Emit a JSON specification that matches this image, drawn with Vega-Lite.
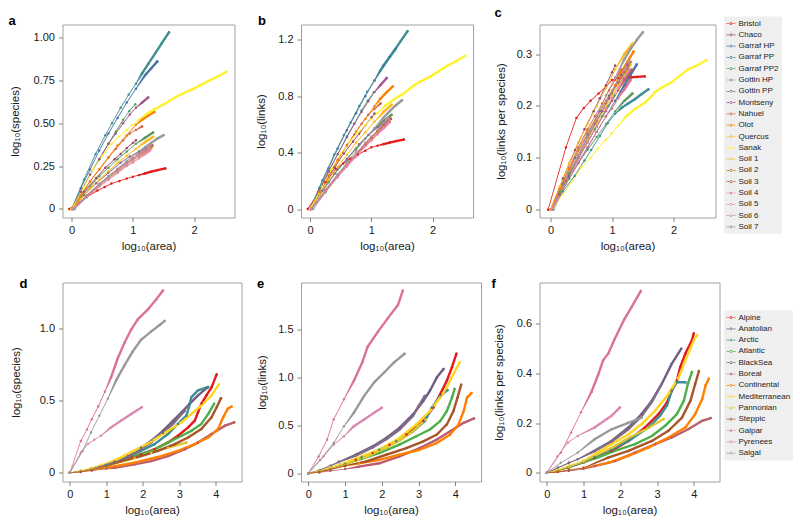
{
"$schema":"https://vega.github.io/schema/vega-lite/v6.json",
"padding":{"left":7.5,"top":6.5,"right":5,"bottom":5},
"config":{
 "font":"Liberation Sans",
 "view":{"stroke":"#a0a0a0","strokeWidth":1},
 "axis":{"domain":false,"grid":false,"tickColor":"#808080","tickSize":4,"labelFontSize":11,"labelColor":"#1a1a1a","labelFont":"Liberation Sans","titleFont":"Liberation Sans","titleFontSize":11.5,"titleFontWeight":"normal","titleColor":"#1a1a1a","labelFlush":false,"labelOverlap":false,"labelPadding":3},
 "axisX":{"titlePadding":5},
 "axisY":{"labelPadding":4},
 "title":{"fontSize":13,"fontWeight":"bold","anchor":"start","frame":"group","font":"Liberation Sans","color":"#000"}
},
"datasets":{
"r1":[
{"n":"Bristol","x":-0.04,"s":0,"l":0,"p":0},{"n":"Bristol","x":0.25,"s":0.07,"l":0.19,"p":0.12},{"n":"Bristol","x":0.42,"s":0.107,"l":0.284,"p":0.177},{"n":"Bristol","x":0.54,"s":0.128,"l":0.324,"p":0.196},{"n":"Bristol","x":0.65,"s":0.148,"l":0.358,"p":0.21},{"n":"Bristol","x":0.78,"s":0.163,"l":0.387,"p":0.224},{"n":"Bristol","x":0.9,"s":0.177,"l":0.414,"p":0.237},{"n":"Bristol","x":1.0,"s":0.188,"l":0.438,"p":0.25},{"n":"Bristol","x":1.1,"s":0.197,"l":0.45,"p":0.253},{"n":"Bristol","x":1.2,"s":0.207,"l":0.461,"p":0.254},{"n":"Bristol","x":1.3,"s":0.217,"l":0.472,"p":0.255},{"n":"Bristol","x":1.4,"s":0.226,"l":0.482,"p":0.256},{"n":"Bristol","x":1.53,"s":0.236,"l":0.493,"p":0.257},
{"n":"Chaco","x":0,"s":0,"l":0,"p":0},{"n":"Chaco","x":0.2,"s":0.1,"l":0.16,"p":0.06},{"n":"Chaco","x":0.4,"s":0.18,"l":0.295,"p":0.115},{"n":"Chaco","x":0.55,"s":0.24,"l":0.395,"p":0.155},{"n":"Chaco","x":0.7,"s":0.29,"l":0.48,"p":0.19},{"n":"Chaco","x":0.8,"s":0.32,"l":0.535,"p":0.215},{"n":"Chaco","x":0.9,"s":0.355,"l":0.595,"p":0.24},{"n":"Chaco","x":1.0,"s":0.385,"l":0.65,"p":0.265},{"n":"Chaco","x":1.05,"s":0.4,"l":0.678,"p":0.278},
{"n":"Garraf HP","x":0,"s":0,"l":0,"p":0},{"n":"Garraf HP","x":0.15,"s":0.12,"l":0.15,"p":0.03},{"n":"Garraf HP","x":0.3,"s":0.23,"l":0.29,"p":0.06},{"n":"Garraf HP","x":0.45,"s":0.34,"l":0.43,"p":0.09},{"n":"Garraf HP","x":0.6,"s":0.44,"l":0.56,"p":0.12},{"n":"Garraf HP","x":0.75,"s":0.53,"l":0.68,"p":0.15},{"n":"Garraf HP","x":0.9,"s":0.62,"l":0.8,"p":0.18},{"n":"Garraf HP","x":1.05,"s":0.7,"l":0.91,"p":0.21},{"n":"Garraf HP","x":1.2,"s":0.78,"l":1.02,"p":0.24},{"n":"Garraf HP","x":1.3,"s":0.82,"l":1.08,"p":0.26},{"n":"Garraf HP","x":1.4,"s":0.86,"l":1.14,"p":0.28},
{"n":"Garraf PP","x":0,"s":0,"l":0,"p":0},{"n":"Garraf PP","x":0.2,"s":0.17,"l":0.205,"p":0.035},{"n":"Garraf PP","x":0.39,"s":0.32,"l":0.385,"p":0.065},{"n":"Garraf PP","x":0.55,"s":0.43,"l":0.525,"p":0.095},{"n":"Garraf PP","x":0.66,"s":0.5,"l":0.615,"p":0.115},{"n":"Garraf PP","x":0.8,"s":0.59,"l":0.732,"p":0.142},{"n":"Garraf PP","x":0.93,"s":0.665,"l":0.832,"p":0.167},{"n":"Garraf PP","x":1.05,"s":0.73,"l":0.915,"p":0.185},{"n":"Garraf PP","x":1.15,"s":0.79,"l":0.986,"p":0.196},{"n":"Garraf PP","x":1.25,"s":0.845,"l":1.049,"p":0.204},{"n":"Garraf PP","x":1.37,"s":0.91,"l":1.123,"p":0.213},{"n":"Garraf PP","x":1.47,"s":0.965,"l":1.187,"p":0.222},{"n":"Garraf PP","x":1.59,"s":1.03,"l":1.262,"p":0.232},
{"n":"Garraf PP2","x":0,"s":0,"l":0,"p":0},{"n":"Garraf PP2","x":0.15,"s":0.1,"l":0.135,"p":0.035},{"n":"Garraf PP2","x":0.3,"s":0.2,"l":0.27,"p":0.07},{"n":"Garraf PP2","x":0.45,"s":0.29,"l":0.39,"p":0.1},{"n":"Garraf PP2","x":0.6,"s":0.38,"l":0.51,"p":0.13},{"n":"Garraf PP2","x":0.72,"s":0.45,"l":0.605,"p":0.155},{"n":"Garraf PP2","x":0.84,"s":0.52,"l":0.7,"p":0.18},{"n":"Garraf PP2","x":0.94,"s":0.57,"l":0.77,"p":0.2},{"n":"Garraf PP2","x":1.04,"s":0.61,"l":0.83,"p":0.22},
{"n":"Gottin HP","x":0,"s":0,"l":0,"p":0},{"n":"Gottin HP","x":0.15,"s":0.07,"l":0.1,"p":0.03},{"n":"Gottin HP","x":0.3,"s":0.13,"l":0.19,"p":0.06},{"n":"Gottin HP","x":0.45,"s":0.19,"l":0.28,"p":0.09},{"n":"Gottin HP","x":0.6,"s":0.24,"l":0.355,"p":0.115},{"n":"Gottin HP","x":0.75,"s":0.29,"l":0.43,"p":0.14},{"n":"Gottin HP","x":0.9,"s":0.335,"l":0.5,"p":0.165},{"n":"Gottin HP","x":1.05,"s":0.38,"l":0.57,"p":0.19},{"n":"Gottin HP","x":1.2,"s":0.415,"l":0.625,"p":0.21},{"n":"Gottin HP","x":1.33,"s":0.445,"l":0.669,"p":0.224},
{"n":"Gottin PP","x":0,"s":0,"l":0,"p":0},{"n":"Gottin PP","x":0.2,"s":0.08,"l":0.13,"p":0.05},{"n":"Gottin PP","x":0.4,"s":0.15,"l":0.25,"p":0.1},{"n":"Gottin PP","x":0.6,"s":0.21,"l":0.355,"p":0.145},{"n":"Gottin PP","x":0.8,"s":0.27,"l":0.46,"p":0.19},{"n":"Gottin PP","x":0.95,"s":0.305,"l":0.525,"p":0.22},{"n":"Gottin PP","x":1.1,"s":0.335,"l":0.58,"p":0.245},{"n":"Gottin PP","x":1.2,"s":0.35,"l":0.61,"p":0.26},{"n":"Gottin PP","x":1.28,"s":0.36,"l":0.63,"p":0.27},
{"n":"Montseny","x":0,"s":0,"l":0,"p":0},{"n":"Montseny","x":0.15,"s":0.1,"l":0.13,"p":0.03},{"n":"Montseny","x":0.3,"s":0.2,"l":0.265,"p":0.065},{"n":"Montseny","x":0.45,"s":0.29,"l":0.39,"p":0.1},{"n":"Montseny","x":0.6,"s":0.38,"l":0.515,"p":0.135},{"n":"Montseny","x":0.72,"s":0.44,"l":0.605,"p":0.165},{"n":"Montseny","x":0.84,"s":0.5,"l":0.69,"p":0.19},{"n":"Montseny","x":0.95,"s":0.55,"l":0.765,"p":0.215},{"n":"Montseny","x":1.05,"s":0.59,"l":0.83,"p":0.24},{"n":"Montseny","x":1.15,"s":0.62,"l":0.88,"p":0.26},{"n":"Montseny","x":1.25,"s":0.65,"l":0.93,"p":0.28},
{"n":"Nahuel","x":0,"s":0,"l":0,"p":0},{"n":"Nahuel","x":0.15,"s":0.08,"l":0.12,"p":0.04},{"n":"Nahuel","x":0.3,"s":0.16,"l":0.24,"p":0.08},{"n":"Nahuel","x":0.45,"s":0.23,"l":0.35,"p":0.12},{"n":"Nahuel","x":0.6,"s":0.3,"l":0.455,"p":0.155},{"n":"Nahuel","x":0.72,"s":0.35,"l":0.53,"p":0.18},{"n":"Nahuel","x":0.84,"s":0.4,"l":0.605,"p":0.205},{"n":"Nahuel","x":0.95,"s":0.44,"l":0.67,"p":0.23},{"n":"Nahuel","x":1.05,"s":0.46,"l":0.71,"p":0.25},{"n":"Nahuel","x":1.15,"s":0.48,"l":0.75,"p":0.27},
{"n":"Olot","x":0,"s":0,"l":0,"p":0},{"n":"Olot","x":0.15,"s":0.08,"l":0.12,"p":0.04},{"n":"Olot","x":0.3,"s":0.16,"l":0.24,"p":0.08},{"n":"Olot","x":0.45,"s":0.23,"l":0.345,"p":0.115},{"n":"Olot","x":0.6,"s":0.3,"l":0.45,"p":0.15},{"n":"Olot","x":0.75,"s":0.37,"l":0.55,"p":0.18},{"n":"Olot","x":0.9,"s":0.43,"l":0.64,"p":0.21},{"n":"Olot","x":1.05,"s":0.49,"l":0.73,"p":0.24},{"n":"Olot","x":1.15,"s":0.52,"l":0.785,"p":0.265},{"n":"Olot","x":1.25,"s":0.545,"l":0.83,"p":0.285},{"n":"Olot","x":1.35,"s":0.565,"l":0.87,"p":0.305},
{"n":"Quercus","x":0,"s":0,"l":0,"p":0},{"n":"Quercus","x":0.15,"s":0.06,"l":0.105,"p":0.045},{"n":"Quercus","x":0.3,"s":0.12,"l":0.21,"p":0.09},{"n":"Quercus","x":0.45,"s":0.17,"l":0.3,"p":0.13},{"n":"Quercus","x":0.6,"s":0.22,"l":0.385,"p":0.165},{"n":"Quercus","x":0.75,"s":0.27,"l":0.47,"p":0.2},{"n":"Quercus","x":0.9,"s":0.31,"l":0.545,"p":0.235},{"n":"Quercus","x":1.05,"s":0.35,"l":0.62,"p":0.27},{"n":"Quercus","x":1.2,"s":0.39,"l":0.69,"p":0.3},{"n":"Quercus","x":1.33,"s":0.42,"l":0.74,"p":0.32},
{"n":"Sanak","x":0,"s":0,"l":0,"p":0},{"n":"Sanak","x":0.2,"s":0.13,"l":0.16,"p":0.03},{"n":"Sanak","x":0.35,"s":0.23,"l":0.285,"p":0.055},{"n":"Sanak","x":0.5,"s":0.31,"l":0.392,"p":0.082},{"n":"Sanak","x":0.65,"s":0.38,"l":0.48,"p":0.1},{"n":"Sanak","x":0.77,"s":0.42,"l":0.538,"p":0.118},{"n":"Sanak","x":0.9,"s":0.46,"l":0.595,"p":0.135},{"n":"Sanak","x":0.99,"s":0.49,"l":0.637,"p":0.147},{"n":"Sanak","x":1.1,"s":0.52,"l":0.682,"p":0.162},{"n":"Sanak","x":1.23,"s":0.555,"l":0.735,"p":0.18},{"n":"Sanak","x":1.35,"s":0.58,"l":0.772,"p":0.192},{"n":"Sanak","x":1.45,"s":0.6,"l":0.8,"p":0.2},{"n":"Sanak","x":1.53,"s":0.615,"l":0.821,"p":0.206},{"n":"Sanak","x":1.62,"s":0.635,"l":0.851,"p":0.216},{"n":"Sanak","x":1.69,"s":0.65,"l":0.876,"p":0.226},{"n":"Sanak","x":1.8,"s":0.67,"l":0.905,"p":0.235},{"n":"Sanak","x":1.96,"s":0.695,"l":0.94,"p":0.245},{"n":"Sanak","x":2.1,"s":0.72,"l":0.978,"p":0.258},{"n":"Sanak","x":2.23,"s":0.745,"l":1.015,"p":0.27},{"n":"Sanak","x":2.38,"s":0.77,"l":1.048,"p":0.278},{"n":"Sanak","x":2.53,"s":0.8,"l":1.088,"p":0.288},
{"n":"Soil 1","x":0.03,"s":0,"l":0,"p":0},{"n":"Soil 1","x":0.25,"s":0.07,"l":0.125,"p":0.055},{"n":"Soil 1","x":0.45,"s":0.13,"l":0.23,"p":0.1},{"n":"Soil 1","x":0.6,"s":0.17,"l":0.305,"p":0.135},{"n":"Soil 1","x":0.75,"s":0.21,"l":0.375,"p":0.165},{"n":"Soil 1","x":0.9,"s":0.25,"l":0.45,"p":0.2},{"n":"Soil 1","x":1.0,"s":0.275,"l":0.495,"p":0.22},{"n":"Soil 1","x":1.1,"s":0.3,"l":0.54,"p":0.24},{"n":"Soil 1","x":1.2,"s":0.325,"l":0.585,"p":0.26},{"n":"Soil 1","x":1.3,"s":0.35,"l":0.63,"p":0.28},
{"n":"Soil 2","x":0.02,"s":0,"l":0,"p":0},{"n":"Soil 2","x":0.25,"s":0.075,"l":0.135,"p":0.06},{"n":"Soil 2","x":0.45,"s":0.14,"l":0.245,"p":0.105},{"n":"Soil 2","x":0.6,"s":0.18,"l":0.32,"p":0.14},{"n":"Soil 2","x":0.75,"s":0.22,"l":0.39,"p":0.17},{"n":"Soil 2","x":0.9,"s":0.26,"l":0.465,"p":0.205},{"n":"Soil 2","x":1.0,"s":0.285,"l":0.51,"p":0.225},{"n":"Soil 2","x":1.1,"s":0.31,"l":0.555,"p":0.245},{"n":"Soil 2","x":1.2,"s":0.335,"l":0.6,"p":0.265},{"n":"Soil 2","x":1.3,"s":0.36,"l":0.645,"p":0.285},
{"n":"Soil 3","x":0.02,"s":0,"l":0,"p":0},{"n":"Soil 3","x":0.25,"s":0.08,"l":0.135,"p":0.055},{"n":"Soil 3","x":0.45,"s":0.145,"l":0.245,"p":0.1},{"n":"Soil 3","x":0.6,"s":0.19,"l":0.32,"p":0.13},{"n":"Soil 3","x":0.75,"s":0.23,"l":0.39,"p":0.16},{"n":"Soil 3","x":0.9,"s":0.27,"l":0.46,"p":0.19},{"n":"Soil 3","x":1.0,"s":0.295,"l":0.505,"p":0.21},{"n":"Soil 3","x":1.1,"s":0.32,"l":0.55,"p":0.23},{"n":"Soil 3","x":1.2,"s":0.345,"l":0.595,"p":0.25},{"n":"Soil 3","x":1.32,"s":0.37,"l":0.64,"p":0.27},
{"n":"Soil 4","x":0.02,"s":0,"l":0,"p":0},{"n":"Soil 4","x":0.25,"s":0.08,"l":0.13,"p":0.05},{"n":"Soil 4","x":0.45,"s":0.145,"l":0.235,"p":0.09},{"n":"Soil 4","x":0.6,"s":0.19,"l":0.31,"p":0.12},{"n":"Soil 4","x":0.75,"s":0.23,"l":0.38,"p":0.15},{"n":"Soil 4","x":0.9,"s":0.27,"l":0.45,"p":0.18},{"n":"Soil 4","x":1.0,"s":0.295,"l":0.49,"p":0.195},{"n":"Soil 4","x":1.1,"s":0.32,"l":0.535,"p":0.215},{"n":"Soil 4","x":1.2,"s":0.345,"l":0.577,"p":0.232},{"n":"Soil 4","x":1.3,"s":0.37,"l":0.62,"p":0.25},
{"n":"Soil 5","x":0.02,"s":0,"l":0,"p":0},{"n":"Soil 5","x":0.25,"s":0.07,"l":0.12,"p":0.05},{"n":"Soil 5","x":0.45,"s":0.13,"l":0.225,"p":0.095},{"n":"Soil 5","x":0.6,"s":0.17,"l":0.3,"p":0.13},{"n":"Soil 5","x":0.75,"s":0.21,"l":0.37,"p":0.16},{"n":"Soil 5","x":0.9,"s":0.25,"l":0.445,"p":0.195},{"n":"Soil 5","x":1.0,"s":0.27,"l":0.485,"p":0.215},{"n":"Soil 5","x":1.1,"s":0.295,"l":0.53,"p":0.235},{"n":"Soil 5","x":1.2,"s":0.32,"l":0.575,"p":0.255},{"n":"Soil 5","x":1.28,"s":0.34,"l":0.61,"p":0.27},
{"n":"Soil 6","x":0.02,"s":0,"l":0,"p":0},{"n":"Soil 6","x":0.25,"s":0.075,"l":0.135,"p":0.06},{"n":"Soil 6","x":0.45,"s":0.14,"l":0.245,"p":0.105},{"n":"Soil 6","x":0.6,"s":0.18,"l":0.32,"p":0.14},{"n":"Soil 6","x":0.75,"s":0.22,"l":0.395,"p":0.175},{"n":"Soil 6","x":0.9,"s":0.26,"l":0.47,"p":0.21},{"n":"Soil 6","x":1.0,"s":0.285,"l":0.515,"p":0.23},{"n":"Soil 6","x":1.1,"s":0.31,"l":0.56,"p":0.25},{"n":"Soil 6","x":1.2,"s":0.34,"l":0.61,"p":0.27},{"n":"Soil 6","x":1.27,"s":0.36,"l":0.645,"p":0.285},
{"n":"Soil 7","x":0.05,"s":0,"l":0,"p":0},{"n":"Soil 7","x":0.25,"s":0.07,"l":0.12,"p":0.05},{"n":"Soil 7","x":0.45,"s":0.14,"l":0.24,"p":0.1},{"n":"Soil 7","x":0.6,"s":0.19,"l":0.33,"p":0.14},{"n":"Soil 7","x":0.75,"s":0.235,"l":0.415,"p":0.18},{"n":"Soil 7","x":0.9,"s":0.28,"l":0.5,"p":0.22},{"n":"Soil 7","x":1.05,"s":0.32,"l":0.575,"p":0.255},{"n":"Soil 7","x":1.2,"s":0.36,"l":0.65,"p":0.29},{"n":"Soil 7","x":1.3,"s":0.385,"l":0.695,"p":0.31},{"n":"Soil 7","x":1.4,"s":0.41,"l":0.737,"p":0.327},{"n":"Soil 7","x":1.5,"s":0.43,"l":0.772,"p":0.342}
],
"sp":[
{"n":"Alpine","x":0,"y":0},{"n":"Alpine","x":0.3,"y":0.01},{"n":"Alpine","x":0.6,"y":0.025},{"n":"Alpine","x":1.0,"y":0.05},{"n":"Alpine","x":1.4,"y":0.08},{"n":"Alpine","x":1.72,"y":0.11},{"n":"Alpine","x":1.95,"y":0.128},{"n":"Alpine","x":2.32,"y":0.163},{"n":"Alpine","x":2.69,"y":0.21},{"n":"Alpine","x":2.96,"y":0.256},{"n":"Alpine","x":3.24,"y":0.314},{"n":"Alpine","x":3.42,"y":0.36},{"n":"Alpine","x":3.51,"y":0.418},{"n":"Alpine","x":3.6,"y":0.477},{"n":"Alpine","x":3.74,"y":0.535},{"n":"Alpine","x":3.88,"y":0.59},{"n":"Alpine","x":4.02,"y":0.68},
{"n":"Anatolian","x":0,"y":0},{"n":"Anatolian","x":0.3,"y":0.012},{"n":"Anatolian","x":0.6,"y":0.03},{"n":"Anatolian","x":0.85,"y":0.047},{"n":"Anatolian","x":1.22,"y":0.077},{"n":"Anatolian","x":1.59,"y":0.116},{"n":"Anatolian","x":1.95,"y":0.174},{"n":"Anatolian","x":2.23,"y":0.221},{"n":"Anatolian","x":2.55,"y":0.29},{"n":"Anatolian","x":2.83,"y":0.36},{"n":"Anatolian","x":3.06,"y":0.418},{"n":"Anatolian","x":3.28,"y":0.477},{"n":"Anatolian","x":3.51,"y":0.535},{"n":"Anatolian","x":3.77,"y":0.59},
{"n":"Arctic","x":0,"y":0},{"n":"Arctic","x":0.3,"y":0.012},{"n":"Arctic","x":0.6,"y":0.028},{"n":"Arctic","x":1.0,"y":0.055},{"n":"Arctic","x":1.5,"y":0.1},{"n":"Arctic","x":1.95,"y":0.151},{"n":"Arctic","x":2.32,"y":0.198},{"n":"Arctic","x":2.69,"y":0.268},{"n":"Arctic","x":2.96,"y":0.338},{"n":"Arctic","x":3.19,"y":0.395},{"n":"Arctic","x":3.26,"y":0.453},{"n":"Arctic","x":3.33,"y":0.523},{"n":"Arctic","x":3.51,"y":0.57},{"n":"Arctic","x":3.79,"y":0.593},
{"n":"Atlantic","x":0,"y":0},{"n":"Atlantic","x":0.3,"y":0.01},{"n":"Atlantic","x":0.6,"y":0.022},{"n":"Atlantic","x":1.0,"y":0.045},{"n":"Atlantic","x":1.4,"y":0.08},{"n":"Atlantic","x":1.77,"y":0.116},{"n":"Atlantic","x":2.23,"y":0.151},{"n":"Atlantic","x":2.69,"y":0.209},{"n":"Atlantic","x":3.06,"y":0.256},{"n":"Atlantic","x":3.33,"y":0.29},{"n":"Atlantic","x":3.6,"y":0.338},{"n":"Atlantic","x":3.79,"y":0.407},{"n":"Atlantic","x":3.95,"y":0.477},
{"n":"BlackSea","x":0,"y":0},{"n":"BlackSea","x":0.3,"y":0.012},{"n":"BlackSea","x":0.6,"y":0.03},{"n":"BlackSea","x":0.85,"y":0.047},{"n":"BlackSea","x":1.22,"y":0.075},{"n":"BlackSea","x":1.59,"y":0.112},{"n":"BlackSea","x":1.95,"y":0.165},{"n":"BlackSea","x":2.23,"y":0.21},{"n":"BlackSea","x":2.55,"y":0.275},{"n":"BlackSea","x":2.83,"y":0.34},{"n":"BlackSea","x":3.0,"y":0.39},{"n":"BlackSea","x":3.15,"y":0.43},
{"n":"Boreal","x":0,"y":0},{"n":"Boreal","x":0.3,"y":0.006},{"n":"Boreal","x":0.6,"y":0.015},{"n":"Boreal","x":1.0,"y":0.028},{"n":"Boreal","x":1.22,"y":0.035},{"n":"Boreal","x":1.77,"y":0.058},{"n":"Boreal","x":2.23,"y":0.081},{"n":"Boreal","x":2.69,"y":0.116},{"n":"Boreal","x":3.15,"y":0.163},{"n":"Boreal","x":3.51,"y":0.209},{"n":"Boreal","x":3.88,"y":0.268},{"n":"Boreal","x":4.25,"y":0.326},{"n":"Boreal","x":4.5,"y":0.349},
{"n":"Continental","x":0,"y":0},{"n":"Continental","x":0.3,"y":0.008},{"n":"Continental","x":0.6,"y":0.02},{"n":"Continental","x":1.13,"y":0.04},{"n":"Continental","x":1.77,"y":0.07},{"n":"Continental","x":2.41,"y":0.109},{"n":"Continental","x":2.96,"y":0.151},{"n":"Continental","x":3.42,"y":0.198},{"n":"Continental","x":3.79,"y":0.244},{"n":"Continental","x":4.06,"y":0.303},{"n":"Continental","x":4.2,"y":0.384},{"n":"Continental","x":4.32,"y":0.442},{"n":"Continental","x":4.43,"y":0.458},
{"n":"Mediterranean","x":0,"y":0},{"n":"Mediterranean","x":0.3,"y":0.014},{"n":"Mediterranean","x":0.6,"y":0.035},{"n":"Mediterranean","x":0.85,"y":0.055},{"n":"Mediterranean","x":1.31,"y":0.095},{"n":"Mediterranean","x":1.77,"y":0.155},{"n":"Mediterranean","x":2.23,"y":0.215},{"n":"Mediterranean","x":2.69,"y":0.29},{"n":"Mediterranean","x":3.06,"y":0.349},{"n":"Mediterranean","x":3.33,"y":0.407},{"n":"Mediterranean","x":3.6,"y":0.465},{"n":"Mediterranean","x":3.88,"y":0.535},{"n":"Mediterranean","x":4.08,"y":0.611},
{"n":"Pannonian","x":0,"y":0},{"n":"Pannonian","x":0.3,"y":0.01},{"n":"Pannonian","x":0.6,"y":0.025},{"n":"Pannonian","x":1.0,"y":0.045},{"n":"Pannonian","x":1.77,"y":0.1},{"n":"Pannonian","x":2.23,"y":0.139},{"n":"Pannonian","x":2.69,"y":0.174},{"n":"Pannonian","x":3.19,"y":0.209},
{"n":"Steppic","x":0,"y":0},{"n":"Steppic","x":0.3,"y":0.008},{"n":"Steppic","x":0.6,"y":0.02},{"n":"Steppic","x":1.0,"y":0.045},{"n":"Steppic","x":1.4,"y":0.081},{"n":"Steppic","x":1.95,"y":0.116},{"n":"Steppic","x":2.41,"y":0.151},{"n":"Steppic","x":2.87,"y":0.198},{"n":"Steppic","x":3.24,"y":0.244},{"n":"Steppic","x":3.6,"y":0.303},{"n":"Steppic","x":3.88,"y":0.384},{"n":"Steppic","x":4.02,"y":0.453},{"n":"Steppic","x":4.14,"y":0.516},
{"n":"Galpar","x":0,"y":0},{"n":"Galpar","x":0.3,"y":0.22},{"n":"Galpar","x":0.47,"y":0.3},{"n":"Galpar","x":0.6,"y":0.37},{"n":"Galpar","x":0.78,"y":0.46},{"n":"Galpar","x":0.96,"y":0.56},{"n":"Galpar","x":1.13,"y":0.66},{"n":"Galpar","x":1.31,"y":0.79},{"n":"Galpar","x":1.5,"y":0.9},{"n":"Galpar","x":1.68,"y":0.99},{"n":"Galpar","x":1.86,"y":1.06},{"n":"Galpar","x":2.14,"y":1.13},{"n":"Galpar","x":2.37,"y":1.2},{"n":"Galpar","x":2.55,"y":1.26},
{"n":"Pyrenees","x":0,"y":0},{"n":"Pyrenees","x":0.3,"y":0.14},{"n":"Pyrenees","x":0.5,"y":0.2},{"n":"Pyrenees","x":0.67,"y":0.228},{"n":"Pyrenees","x":0.85,"y":0.256},{"n":"Pyrenees","x":1.13,"y":0.314},{"n":"Pyrenees","x":1.4,"y":0.36},{"n":"Pyrenees","x":1.68,"y":0.407},{"n":"Pyrenees","x":1.97,"y":0.453},
{"n":"Salgal","x":0,"y":0},{"n":"Salgal","x":0.35,"y":0.151},{"n":"Salgal","x":0.58,"y":0.279},{"n":"Salgal","x":0.81,"y":0.395},{"n":"Salgal","x":1.04,"y":0.512},{"n":"Salgal","x":1.27,"y":0.64},{"n":"Salgal","x":1.5,"y":0.744},{"n":"Salgal","x":1.72,"y":0.837},{"n":"Salgal","x":1.95,"y":0.919},{"n":"Salgal","x":2.23,"y":0.977},{"n":"Salgal","x":2.45,"y":1.02},{"n":"Salgal","x":2.6,"y":1.05}
],
"li":[
{"n":"Alpine","x":0,"y":0},{"n":"Alpine","x":0.3,"y":0.02},{"n":"Alpine","x":0.6,"y":0.05},{"n":"Alpine","x":1.0,"y":0.09},{"n":"Alpine","x":1.29,"y":0.141},{"n":"Alpine","x":1.75,"y":0.211},{"n":"Alpine","x":2.21,"y":0.299},{"n":"Alpine","x":2.67,"y":0.405},{"n":"Alpine","x":3.13,"y":0.545},{"n":"Alpine","x":3.4,"y":0.685},{"n":"Alpine","x":3.59,"y":0.826},{"n":"Alpine","x":3.77,"y":0.966},{"n":"Alpine","x":3.91,"y":1.107},{"n":"Alpine","x":4.03,"y":1.247},
{"n":"Anatolian","x":0,"y":0},{"n":"Anatolian","x":0.3,"y":0.03},{"n":"Anatolian","x":0.6,"y":0.08},{"n":"Anatolian","x":0.83,"y":0.123},{"n":"Anatolian","x":1.29,"y":0.194},{"n":"Anatolian","x":1.75,"y":0.281},{"n":"Anatolian","x":2.12,"y":0.369},{"n":"Anatolian","x":2.48,"y":0.474},{"n":"Anatolian","x":2.85,"y":0.615},{"n":"Anatolian","x":3.13,"y":0.755},{"n":"Anatolian","x":3.31,"y":0.861},{"n":"Anatolian","x":3.5,"y":1.001},{"n":"Anatolian","x":3.68,"y":1.089},
{"n":"Arctic","x":0,"y":0},{"n":"Arctic","x":0.3,"y":0.02},{"n":"Arctic","x":0.6,"y":0.05},{"n":"Arctic","x":1.0,"y":0.1},{"n":"Arctic","x":1.45,"y":0.17},{"n":"Arctic","x":1.93,"y":0.246},{"n":"Arctic","x":2.39,"y":0.334},{"n":"Arctic","x":2.85,"y":0.439},{"n":"Arctic","x":3.17,"y":0.545},{"n":"Arctic","x":3.36,"y":0.685},{"n":"Arctic","x":3.59,"y":0.808},{"n":"Arctic","x":3.79,"y":0.868},
{"n":"Atlantic","x":0,"y":0},{"n":"Atlantic","x":0.3,"y":0.018},{"n":"Atlantic","x":0.6,"y":0.045},{"n":"Atlantic","x":1.0,"y":0.09},{"n":"Atlantic","x":1.45,"y":0.15},{"n":"Atlantic","x":1.93,"y":0.211},{"n":"Atlantic","x":2.48,"y":0.299},{"n":"Atlantic","x":2.94,"y":0.387},{"n":"Atlantic","x":3.31,"y":0.457},{"n":"Atlantic","x":3.59,"y":0.545},{"n":"Atlantic","x":3.77,"y":0.65},{"n":"Atlantic","x":3.91,"y":0.79},{"n":"Atlantic","x":3.98,"y":0.879},
{"n":"BlackSea","x":0,"y":0},{"n":"BlackSea","x":0.3,"y":0.03},{"n":"BlackSea","x":0.6,"y":0.075},{"n":"BlackSea","x":0.83,"y":0.115},{"n":"BlackSea","x":1.29,"y":0.185},{"n":"BlackSea","x":1.75,"y":0.27},{"n":"BlackSea","x":2.12,"y":0.355},{"n":"BlackSea","x":2.48,"y":0.455},{"n":"BlackSea","x":2.85,"y":0.6},{"n":"BlackSea","x":3.0,"y":0.7},{"n":"BlackSea","x":3.17,"y":0.808},
{"n":"Boreal","x":0,"y":0},{"n":"Boreal","x":0.3,"y":0.01},{"n":"Boreal","x":0.6,"y":0.025},{"n":"Boreal","x":1.0,"y":0.045},{"n":"Boreal","x":1.38,"y":0.07},{"n":"Boreal","x":1.93,"y":0.105},{"n":"Boreal","x":2.48,"y":0.176},{"n":"Boreal","x":3.03,"y":0.264},{"n":"Boreal","x":3.5,"y":0.352},{"n":"Boreal","x":3.86,"y":0.439},{"n":"Boreal","x":4.23,"y":0.527},{"n":"Boreal","x":4.51,"y":0.573},
{"n":"Continental","x":0,"y":0},{"n":"Continental","x":0.3,"y":0.015},{"n":"Continental","x":0.6,"y":0.04},{"n":"Continental","x":1.0,"y":0.075},{"n":"Continental","x":1.38,"y":0.105},{"n":"Continental","x":1.93,"y":0.141},{"n":"Continental","x":2.48,"y":0.194},{"n":"Continental","x":3.03,"y":0.246},{"n":"Continental","x":3.5,"y":0.316},{"n":"Continental","x":3.86,"y":0.405},{"n":"Continental","x":4.09,"y":0.51},{"n":"Continental","x":4.23,"y":0.65},{"n":"Continental","x":4.32,"y":0.79},{"n":"Continental","x":4.44,"y":0.837},
{"n":"Mediterranean","x":0,"y":0},{"n":"Mediterranean","x":0.3,"y":0.025},{"n":"Mediterranean","x":0.6,"y":0.065},{"n":"Mediterranean","x":1.1,"y":0.123},{"n":"Mediterranean","x":1.56,"y":0.194},{"n":"Mediterranean","x":2.02,"y":0.264},{"n":"Mediterranean","x":2.48,"y":0.369},{"n":"Mediterranean","x":2.94,"y":0.51},{"n":"Mediterranean","x":3.31,"y":0.65},{"n":"Mediterranean","x":3.59,"y":0.79},{"n":"Mediterranean","x":3.77,"y":0.896},{"n":"Mediterranean","x":3.95,"y":1.037},{"n":"Mediterranean","x":4.12,"y":1.159},
{"n":"Pannonian","x":0,"y":0},{"n":"Pannonian","x":0.3,"y":0.02},{"n":"Pannonian","x":0.6,"y":0.05},{"n":"Pannonian","x":1.0,"y":0.09},{"n":"Pannonian","x":1.56,"y":0.17},{"n":"Pannonian","x":2.02,"y":0.25},{"n":"Pannonian","x":2.48,"y":0.34},{"n":"Pannonian","x":2.85,"y":0.44},{"n":"Pannonian","x":3.19,"y":0.56},
{"n":"Steppic","x":0,"y":0},{"n":"Steppic","x":0.3,"y":0.015},{"n":"Steppic","x":0.6,"y":0.04},{"n":"Steppic","x":1.0,"y":0.08},{"n":"Steppic","x":1.56,"y":0.123},{"n":"Steppic","x":2.12,"y":0.194},{"n":"Steppic","x":2.67,"y":0.264},{"n":"Steppic","x":3.13,"y":0.334},{"n":"Steppic","x":3.5,"y":0.405},{"n":"Steppic","x":3.77,"y":0.51},{"n":"Steppic","x":3.95,"y":0.65},{"n":"Steppic","x":4.06,"y":0.79},{"n":"Steppic","x":4.16,"y":0.924},
{"n":"Galpar","x":0,"y":0},{"n":"Galpar","x":0.28,"y":0.176},{"n":"Galpar","x":0.51,"y":0.351},{"n":"Galpar","x":0.69,"y":0.562},{"n":"Galpar","x":0.97,"y":0.773},{"n":"Galpar","x":1.24,"y":0.966},{"n":"Galpar","x":1.47,"y":1.159},{"n":"Galpar","x":1.61,"y":1.317},{"n":"Galpar","x":1.89,"y":1.475},{"n":"Galpar","x":2.16,"y":1.616},{"n":"Galpar","x":2.44,"y":1.756},{"n":"Galpar","x":2.57,"y":1.904},
{"n":"Pyrenees","x":0,"y":0},{"n":"Pyrenees","x":0.41,"y":0.176},{"n":"Pyrenees","x":0.69,"y":0.299},{"n":"Pyrenees","x":0.97,"y":0.386},{"n":"Pyrenees","x":1.24,"y":0.492},{"n":"Pyrenees","x":1.52,"y":0.562},{"n":"Pyrenees","x":1.79,"y":0.632},{"n":"Pyrenees","x":2.0,"y":0.685},
{"n":"Salgal","x":0,"y":0},{"n":"Salgal","x":0.32,"y":0.14},{"n":"Salgal","x":0.69,"y":0.316},{"n":"Salgal","x":0.97,"y":0.492},{"n":"Salgal","x":1.24,"y":0.632},{"n":"Salgal","x":1.52,"y":0.808},{"n":"Salgal","x":1.79,"y":0.948},{"n":"Salgal","x":2.07,"y":1.054},{"n":"Salgal","x":2.34,"y":1.159},{"n":"Salgal","x":2.62,"y":1.247}
],
"lp":[
{"n":"Alpine","x":0,"y":0},{"n":"Alpine","x":0.3,"y":0.01},{"n":"Alpine","x":0.6,"y":0.02},{"n":"Alpine","x":1.0,"y":0.04},{"n":"Alpine","x":1.3,"y":0.06},{"n":"Alpine","x":1.76,"y":0.088},{"n":"Alpine","x":2.22,"y":0.128},{"n":"Alpine","x":2.67,"y":0.182},{"n":"Alpine","x":3.04,"y":0.236},{"n":"Alpine","x":3.27,"y":0.283},{"n":"Alpine","x":3.4,"y":0.33},{"n":"Alpine","x":3.54,"y":0.371},{"n":"Alpine","x":3.63,"y":0.425},{"n":"Alpine","x":3.77,"y":0.479},{"n":"Alpine","x":3.95,"y":0.533},{"n":"Alpine","x":4.0,"y":0.56},
{"n":"Anatolian","x":0,"y":0},{"n":"Anatolian","x":0.3,"y":0.02},{"n":"Anatolian","x":0.6,"y":0.04},{"n":"Anatolian","x":0.84,"y":0.054},{"n":"Anatolian","x":1.3,"y":0.088},{"n":"Anatolian","x":1.76,"y":0.128},{"n":"Anatolian","x":2.22,"y":0.182},{"n":"Anatolian","x":2.58,"y":0.236},{"n":"Anatolian","x":2.86,"y":0.29},{"n":"Anatolian","x":3.13,"y":0.358},{"n":"Anatolian","x":3.4,"y":0.438},{"n":"Anatolian","x":3.66,"y":0.499},
{"n":"Arctic","x":0,"y":0},{"n":"Arctic","x":0.3,"y":0.01},{"n":"Arctic","x":0.6,"y":0.025},{"n":"Arctic","x":1.0,"y":0.045},{"n":"Arctic","x":1.3,"y":0.065},{"n":"Arctic","x":1.76,"y":0.095},{"n":"Arctic","x":2.22,"y":0.128},{"n":"Arctic","x":2.76,"y":0.182},{"n":"Arctic","x":3.08,"y":0.229},{"n":"Arctic","x":3.27,"y":0.27},{"n":"Arctic","x":3.4,"y":0.33},{"n":"Arctic","x":3.54,"y":0.364},{"n":"Arctic","x":3.77,"y":0.364},
{"n":"Atlantic","x":0,"y":0},{"n":"Atlantic","x":0.3,"y":0.008},{"n":"Atlantic","x":0.6,"y":0.02},{"n":"Atlantic","x":1.0,"y":0.04},{"n":"Atlantic","x":1.4,"y":0.062},{"n":"Atlantic","x":1.85,"y":0.088},{"n":"Atlantic","x":2.4,"y":0.115},{"n":"Atlantic","x":2.86,"y":0.148},{"n":"Atlantic","x":3.22,"y":0.189},{"n":"Atlantic","x":3.54,"y":0.236},{"n":"Atlantic","x":3.73,"y":0.29},{"n":"Atlantic","x":3.84,"y":0.358},{"n":"Atlantic","x":3.95,"y":0.405},
{"n":"BlackSea","x":0,"y":0},{"n":"BlackSea","x":0.3,"y":0.02},{"n":"BlackSea","x":0.6,"y":0.04},{"n":"BlackSea","x":0.84,"y":0.055},{"n":"BlackSea","x":1.3,"y":0.088},{"n":"BlackSea","x":1.76,"y":0.125},{"n":"BlackSea","x":2.22,"y":0.175},{"n":"BlackSea","x":2.58,"y":0.228},{"n":"BlackSea","x":2.86,"y":0.285},{"n":"BlackSea","x":3.1,"y":0.35},
{"n":"Boreal","x":0,"y":0},{"n":"Boreal","x":0.3,"y":0.003},{"n":"Boreal","x":0.6,"y":0.008},{"n":"Boreal","x":1.0,"y":0.015},{"n":"Boreal","x":1.3,"y":0.027},{"n":"Boreal","x":1.85,"y":0.047},{"n":"Boreal","x":2.4,"y":0.081},{"n":"Boreal","x":2.95,"y":0.115},{"n":"Boreal","x":3.4,"y":0.142},{"n":"Boreal","x":3.86,"y":0.176},{"n":"Boreal","x":4.23,"y":0.209},{"n":"Boreal","x":4.46,"y":0.22},
{"n":"Continental","x":0,"y":0},{"n":"Continental","x":0.3,"y":0.005},{"n":"Continental","x":0.6,"y":0.012},{"n":"Continental","x":1.0,"y":0.02},{"n":"Continental","x":1.67,"y":0.04},{"n":"Continental","x":2.22,"y":0.068},{"n":"Continental","x":2.76,"y":0.101},{"n":"Continental","x":3.31,"y":0.142},{"n":"Continental","x":3.77,"y":0.182},{"n":"Continental","x":4.04,"y":0.236},{"n":"Continental","x":4.23,"y":0.297},{"n":"Continental","x":4.32,"y":0.351},{"n":"Continental","x":4.41,"y":0.378},
{"n":"Mediterranean","x":0,"y":0},{"n":"Mediterranean","x":0.3,"y":0.012},{"n":"Mediterranean","x":0.6,"y":0.03},{"n":"Mediterranean","x":1.0,"y":0.05},{"n":"Mediterranean","x":1.3,"y":0.074},{"n":"Mediterranean","x":1.76,"y":0.115},{"n":"Mediterranean","x":2.22,"y":0.155},{"n":"Mediterranean","x":2.58,"y":0.196},{"n":"Mediterranean","x":2.95,"y":0.25},{"n":"Mediterranean","x":3.31,"y":0.317},{"n":"Mediterranean","x":3.59,"y":0.384},{"n":"Mediterranean","x":3.77,"y":0.452},{"n":"Mediterranean","x":4.0,"y":0.533},{"n":"Mediterranean","x":4.09,"y":0.553},
{"n":"Pannonian","x":0,"y":0},{"n":"Pannonian","x":0.3,"y":0.01},{"n":"Pannonian","x":0.6,"y":0.025},{"n":"Pannonian","x":1.0,"y":0.045},{"n":"Pannonian","x":1.76,"y":0.1},{"n":"Pannonian","x":2.22,"y":0.14},{"n":"Pannonian","x":2.76,"y":0.18},{"n":"Pannonian","x":3.18,"y":0.216},
{"n":"Steppic","x":0,"y":0},{"n":"Steppic","x":0.3,"y":0.004},{"n":"Steppic","x":0.6,"y":0.01},{"n":"Steppic","x":1.0,"y":0.02},{"n":"Steppic","x":1.67,"y":0.061},{"n":"Steppic","x":2.22,"y":0.088},{"n":"Steppic","x":2.86,"y":0.128},{"n":"Steppic","x":3.31,"y":0.169},{"n":"Steppic","x":3.68,"y":0.222},{"n":"Steppic","x":3.91,"y":0.29},{"n":"Steppic","x":4.04,"y":0.358},{"n":"Steppic","x":4.14,"y":0.409},
{"n":"Galpar","x":0,"y":0},{"n":"Galpar","x":0.38,"y":0.081},{"n":"Galpar","x":0.66,"y":0.162},{"n":"Galpar","x":0.93,"y":0.243},{"n":"Galpar","x":1.21,"y":0.324},{"n":"Galpar","x":1.39,"y":0.391},{"n":"Galpar","x":1.53,"y":0.452},{"n":"Galpar","x":1.67,"y":0.479},{"n":"Galpar","x":1.85,"y":0.539},{"n":"Galpar","x":2.12,"y":0.62},{"n":"Galpar","x":2.31,"y":0.667},{"n":"Galpar","x":2.56,"y":0.731},
{"n":"Pyrenees","x":0,"y":0},{"n":"Pyrenees","x":0.29,"y":0.067},{"n":"Pyrenees","x":0.57,"y":0.121},{"n":"Pyrenees","x":0.84,"y":0.148},{"n":"Pyrenees","x":1.3,"y":0.182},{"n":"Pyrenees","x":1.76,"y":0.229},{"n":"Pyrenees","x":1.99,"y":0.263},
{"n":"Salgal","x":0,"y":0},{"n":"Salgal","x":0.38,"y":0.04},{"n":"Salgal","x":0.84,"y":0.081},{"n":"Salgal","x":1.3,"y":0.135},{"n":"Salgal","x":1.76,"y":0.175},{"n":"Salgal","x":2.2,"y":0.2},{"n":"Salgal","x":2.58,"y":0.222}
]
},
"columns":3,
"bounds":"flush",
"align":"all",
"spacing":{"row":59,"column":58.5},
"resolve":{"scale":{"color":"independent"},"legend":{"color":"independent"}},
"concat":[
 {"width":172,"height":193,"title":{"text":"a","dx":-54,"offset":-3.5},"data":{"name":"r1"},
  "encoding":{"x":{"field":"x","type":"quantitative","scale":{"domain":[-0.15,2.66],"nice":false,"zero":false},"axis":{"values":[0,1,2],"title":"log₁₀(area)"}},
   "y":{"field":"s","type":"quantitative","scale":{"domain":[-0.05,1.075],"nice":false,"zero":false},"axis":{"values":[0,0.25,0.5,0.75,1],"labelExpr":"datum.value == 0 ? '0' : format(datum.value, '.2f')","title":"log₁₀(species)","titleX":-42}},
   "color":{"field":"n","type":"nominal","scale":{"domain":["Bristol","Chaco","Garraf HP","Garraf PP","Garraf PP2","Gottin HP","Gottin PP","Montseny","Nahuel","Olot","Quercus","Sanak","Soil 1","Soil 2","Soil 3","Soil 4","Soil 5","Soil 6","Soil 7"],"range":["#E41A1C","#964661","#4A73A7","#3E8E93","#48A462","#5E995E","#7F6E85","#A35391","#D16948","#FF7F00","#FFB817","#FFF12D","#E1C72F","#BA7C2A","#B8604A","#DC738D","#ED84BB","#C38EAA","#999999"]},"legend":null}},
  "layer":[
   {"mark":{"type":"trail"},"encoding":{"size":{"condition":{"test":"datum.x >= 1.15","value":2.4},"value":0.8}}},
   {"mark":{"type":"point","filled":true,"size":6,"opacity":1}}
  ]},
 {"width":172,"height":193,"title":{"text":"b","dx":-43,"offset":-3.5},"data":{"name":"r1"},
  "encoding":{"x":{"field":"x","type":"quantitative","scale":{"domain":[-0.15,2.66],"nice":false,"zero":false},"axis":{"values":[0,1,2],"title":"log₁₀(area)"}},
   "y":{"field":"l","type":"quantitative","scale":{"domain":[-0.06,1.31],"nice":false,"zero":false},"axis":{"values":[0,0.4,0.8,1.2],"labelExpr":"datum.value == 0 ? '0' : format(datum.value, '.1f')","title":"log₁₀(links)","titleX":-35}},
   "color":{"field":"n","type":"nominal","scale":{"domain":["Bristol","Chaco","Garraf HP","Garraf PP","Garraf PP2","Gottin HP","Gottin PP","Montseny","Nahuel","Olot","Quercus","Sanak","Soil 1","Soil 2","Soil 3","Soil 4","Soil 5","Soil 6","Soil 7"],"range":["#E41A1C","#964661","#4A73A7","#3E8E93","#48A462","#5E995E","#7F6E85","#A35391","#D16948","#FF7F00","#FFB817","#FFF12D","#E1C72F","#BA7C2A","#B8604A","#DC738D","#ED84BB","#C38EAA","#999999"]},"legend":null}},
  "layer":[
   {"mark":{"type":"trail"},"encoding":{"size":{"condition":{"test":"datum.x >= 1.15","value":2.4},"value":0.8}}},
   {"mark":{"type":"point","filled":true,"size":6,"opacity":1}}
  ]},
 {"width":176,"height":193,"title":{"text":"c","dx":-45,"offset":-3.5},"data":{"name":"r1"},
  "encoding":{"x":{"field":"x","type":"quantitative","scale":{"domain":[-0.18,2.68],"nice":false,"zero":false},"axis":{"values":[0,1,2],"title":"log₁₀(area)"}},
   "y":{"field":"p","type":"quantitative","scale":{"domain":[-0.015,0.357],"nice":false,"zero":false},"axis":{"values":[0,0.1,0.2,0.3],"labelExpr":"datum.value == 0 ? '0' : format(datum.value, '.1f')","title":"log₁₀(links per species)","titleX":-33}},
   "color":{"field":"n","type":"nominal","scale":{"domain":["Bristol","Chaco","Garraf HP","Garraf PP","Garraf PP2","Gottin HP","Gottin PP","Montseny","Nahuel","Olot","Quercus","Sanak","Soil 1","Soil 2","Soil 3","Soil 4","Soil 5","Soil 6","Soil 7"],"range":["#E41A1C","#964661","#4A73A7","#3E8E93","#48A462","#5E995E","#7F6E85","#A35391","#D16948","#FF7F00","#FFB817","#FFF12D","#E1C72F","#BA7C2A","#B8604A","#DC738D","#ED84BB","#C38EAA","#999999"]},
     "legend":{"orient":"none","legendX":184.5,"legendY":-8,"title":null,"symbolType":"M-1,-0.08L1,-0.08L1,0.08L-1,0.08Z M-0.3,0A0.3,0.3,0,1,0,0.3,0A0.3,0.3,0,1,0,-0.3,0Z","symbolSize":81,"symbolStrokeWidth":0,"symbolOpacity":1,"labelFont":"Liberation Sans","labelFontSize":8,"labelColor":"#222","labelOffset":3,"rowPadding":2.3,"padding":2.5,"fillColor":"#efefef","labelLimit":200}}},
  "layer":[
   {"mark":{"type":"trail"},"encoding":{"size":{"condition":{"test":"datum.x >= 1.15","value":2.4},"value":0.8}}},
   {"mark":{"type":"point","filled":true,"size":6,"opacity":1}}
  ]},
 {"width":179,"height":199,"title":{"text":"d","dx":-43,"offset":-8},"data":{"name":"sp"},
  "encoding":{"x":{"field":"x","type":"quantitative","scale":{"domain":[-0.2,4.7],"nice":false,"zero":false},"axis":{"values":[0,1,2,3,4],"title":"log₁₀(area)"}},
   "y":{"field":"y","type":"quantitative","scale":{"domain":[-0.06,1.315],"nice":false,"zero":false},"axis":{"values":[0,0.5,1],"labelExpr":"datum.value == 0 ? '0' : format(datum.value, '.1f')","title":"log₁₀(species)","titleX":-41}},
   "color":{"field":"n","type":"nominal","scale":{"domain":["Alpine","Anatolian","Arctic","Atlantic","BlackSea","Boreal","Continental","Mediterranean","Pannonian","Steppic","Galpar","Pyrenees","Salgal"],"range":["#E41A1C","#715D84","#3E8E93","#4DAF4A","#7F6E85","#BA5E6D","#FF7F00","#FFD422","#E1C72F","#A65628","#DC738D","#D889B2","#999999"]},"legend":null}},
  "layer":[
   {"mark":{"type":"trail"},"encoding":{"size":{"condition":{"test":"datum.x >= 1.1","value":2.4},"value":0.8}}},
   {"mark":{"type":"point","filled":true,"size":6,"opacity":1}}
  ]},
 {"width":180,"height":199,"title":{"text":"e","dx":-44,"offset":-8},"data":{"name":"li"},
  "encoding":{"x":{"field":"x","type":"quantitative","scale":{"domain":[-0.2,4.7],"nice":false,"zero":false},"axis":{"values":[0,1,2,3,4],"title":"log₁₀(area)"}},
   "y":{"field":"y","type":"quantitative","scale":{"domain":[-0.085,1.99],"nice":false,"zero":false},"axis":{"values":[0,0.5,1,1.5],"labelExpr":"datum.value == 0 ? '0' : format(datum.value, '.1f')","title":"log₁₀(links)","titleX":-34}},
   "color":{"field":"n","type":"nominal","scale":{"domain":["Alpine","Anatolian","Arctic","Atlantic","BlackSea","Boreal","Continental","Mediterranean","Pannonian","Steppic","Galpar","Pyrenees","Salgal"],"range":["#E41A1C","#715D84","#3E8E93","#4DAF4A","#7F6E85","#BA5E6D","#FF7F00","#FFD422","#E1C72F","#A65628","#DC738D","#D889B2","#999999"]},"legend":null}},
  "layer":[
   {"mark":{"type":"trail"},"encoding":{"size":{"condition":{"test":"datum.x >= 1.1","value":2.4},"value":0.8}}},
   {"mark":{"type":"point","filled":true,"size":6,"opacity":1}}
  ]},
 {"width":180,"height":199,"title":{"text":"f","dx":-48,"offset":-8},"data":{"name":"lp"},
  "encoding":{"x":{"field":"x","type":"quantitative","scale":{"domain":[-0.2,4.7],"nice":false,"zero":false},"axis":{"values":[0,1,2,3,4],"title":"log₁₀(area)"}},
   "y":{"field":"y","type":"quantitative","scale":{"domain":[-0.035,0.765],"nice":false,"zero":false},"axis":{"values":[0,0.2,0.4,0.6],"labelExpr":"datum.value == 0 ? '0' : format(datum.value, '.1f')","title":"log₁₀(links per species)","titleX":-35}},
   "color":{"field":"n","type":"nominal","scale":{"domain":["Alpine","Anatolian","Arctic","Atlantic","BlackSea","Boreal","Continental","Mediterranean","Pannonian","Steppic","Galpar","Pyrenees","Salgal"],"range":["#E41A1C","#715D84","#3E8E93","#4DAF4A","#7F6E85","#BA5E6D","#FF7F00","#FFD422","#E1C72F","#A65628","#DC738D","#D889B2","#999999"]},
     "legend":{"orient":"none","legendX":184.5,"legendY":28,"title":null,"symbolType":"M-1,-0.08L1,-0.08L1,0.08L-1,0.08Z M-0.3,0A0.3,0.3,0,1,0,0.3,0A0.3,0.3,0,1,0,-0.3,0Z","symbolSize":81,"symbolStrokeWidth":0,"symbolOpacity":1,"labelFont":"Liberation Sans","labelFontSize":8,"labelColor":"#222","labelOffset":3,"rowPadding":2.3,"padding":2.5,"fillColor":"#efefef","labelLimit":200}}},
  "layer":[
   {"mark":{"type":"trail"},"encoding":{"size":{"condition":{"test":"datum.x >= 1.1","value":2.4},"value":0.8}}},
   {"mark":{"type":"point","filled":true,"size":6,"opacity":1}}
  ]}
]
}
